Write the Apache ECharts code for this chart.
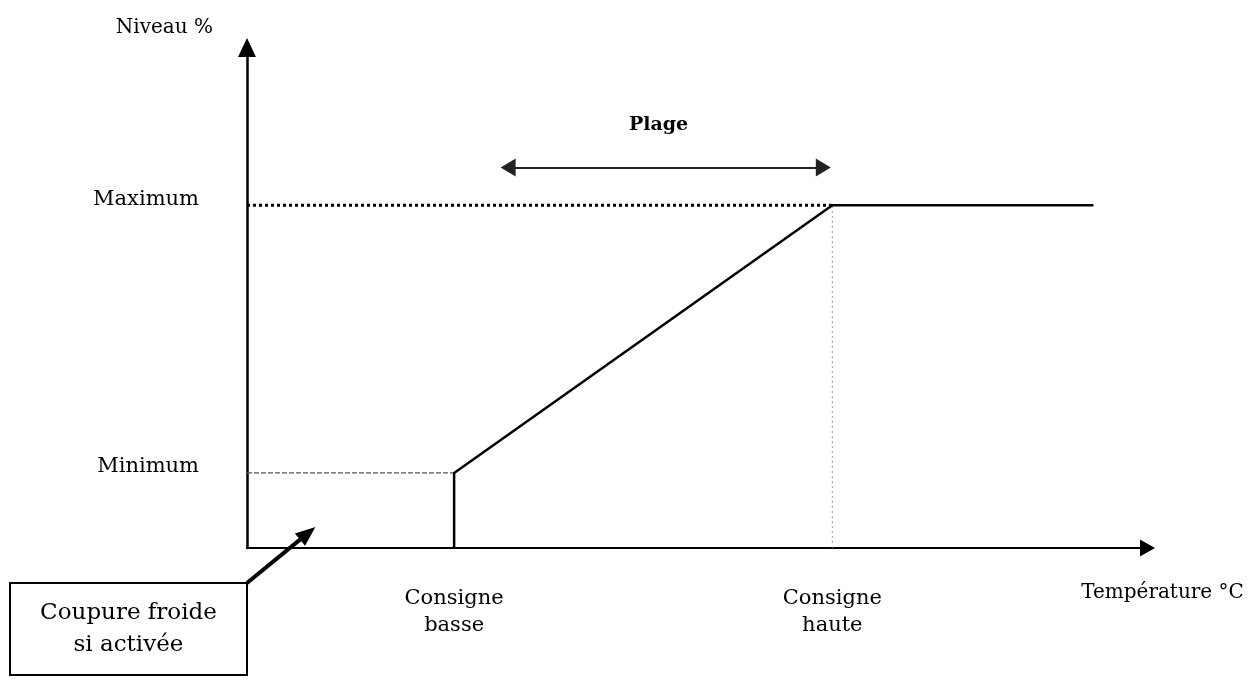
<!DOCTYPE html>
<html><head><meta charset="utf-8">
<script src="https://cdn.jsdelivr.net/npm/echarts@6/dist/echarts.min.js"></script>
<style>html,body{margin:0;padding:0;background:#fff}#c{width:1254px;height:684px}</style>
</head><body><div id="c"></div>
<script>
// ---- data (schematic values, axes 0..100) ----
const xLabels = ['Consigne\nbasse', 'Consigne\nhaute'];
const xPositions = [23, 65];
const yLabels = ['Minimum', 'Maximum'];
const yLevels = [15, 68.5];
const curve = [[23, 0], [23, 15], [65, 68.5], [94, 68.5]];
const minimumLine = [[0, 15], [23, 15]];
const maximumLine = [[0, 68.5], [65, 68.5]];
const hauteLine = [[65, 0], [65, 68.5]];
const plageArrow = [[29, 76], [64, 76]];
const plageLabelPos = [45.7, 84.6];
const plageText = 'Plage';
const calloutText = 'Coupure froide\nsi activée';
const calloutBoxCorner = [0, -7];
const calloutTip = [7.6, 4.2];
const xName = 'Température °C';
const yName = 'Niveau %';

const FONT = '"DejaVu Serif", "Liberation Serif", serif';
const INK = '#000';

const chart = echarts.init(document.getElementById('c'), null, {renderer: 'canvas'});
chart.setOption({
  animation: false,
  backgroundColor: '#fff',
  grid: {left: 247, right: 106.5, top: 47.5, bottom: 136},
  xAxis: {
    type: 'value', min: 0, max: 100,
    name: xName, nameLocation: 'end', nameGap: 15,
    nameTextStyle: {fontFamily: FONT, fontSize: 20, color: INK, align: 'center', verticalAlign: 'top', padding: [35, 0, 0, 0]},
    axisLine: {show: true, onZero: false, symbol: ['none', 'triangle'], symbolSize: [17, 15], lineStyle: {color: INK, width: 2}},
    axisTick: {show: false},
    splitLine: {show: false},
    axisLabel: {
      customValues: xPositions,
      formatter: function (v) { const i = xPositions.indexOf(v); return i >= 0 ? xLabels[i] : ''; },
      fontFamily: FONT, fontSize: 21, color: INK, lineHeight: 27, margin: 37, align: 'center'
    }
  },
  yAxis: {
    type: 'value', min: 0, max: 100,
    name: yName, nameLocation: 'end', nameGap: 20,
    nameTextStyle: {fontFamily: FONT, fontSize: 20, color: INK, align: 'right', verticalAlign: 'middle', padding: [0, 34, 0, 0]},
    axisLine: {show: true, onZero: false, symbol: ['none', 'triangle'], symbolSize: [18, 19], lineStyle: {color: INK, width: 2.5}},
    axisTick: {show: false},
    splitLine: {show: false},
    axisLabel: {
      customValues: yLevels,
      formatter: function (v) { const i = yLevels.indexOf(v); return i >= 0 ? yLabels[i] : ''; },
      fontFamily: FONT, fontSize: 21, color: INK, margin: 48, verticalAlign: 'bottom', lineHeight: 12
    }
  },
  series: [
    {
      name: 'Niveau', type: 'line', data: curve, showSymbol: false, symbol: 'none',
      lineStyle: {color: INK, width: 2.5}, z: 5
    },
    {
      name: 'Minimum', type: 'line', data: minimumLine, symbol: 'none',
      lineStyle: {color: '#555', width: 1.2, type: [5, 2]}
    },
    {
      name: 'Maximum', type: 'line', data: maximumLine, symbol: 'none',
      lineStyle: {color: INK, width: 3, type: [3, 3]}
    },
    {
      name: 'Haute', type: 'line', data: hauteLine, symbol: 'none',
      lineStyle: {color: '#999', width: 1, type: [2, 3]}
    },
    {
      name: 'Plage', type: 'line', data: [], symbol: 'none',
      markLine: {
        silent: true, symbol: ['triangle', 'triangle'], symbolSize: [18, 15],
        label: {show: false},
        lineStyle: {color: '#222', width: 2.2, type: 'solid', opacity: 1},
        emphasis: {disabled: true},
        data: [[{coord: plageArrow[0]}, {coord: plageArrow[1]}]]
      }
    },
    {
      name: 'PlageLabel', type: 'scatter', symbolSize: 0, z: 10,
      data: [{value: plageLabelPos, name: plageText}],
      itemStyle: {color: INK, opacity: 1},
      label: {show: true, position: 'inside', formatter: '{b}', fontFamily: FONT, fontSize: 19, fontWeight: 'bold', color: '#000', opacity: 1, textBorderWidth: 0},
      emphasis: {disabled: true},
      silent: true
    },
    {
      name: 'Callout', type: 'custom', clip: false, silent: true,
      data: [calloutTip],
      encode: {x: 0, y: 1},
      renderItem: function (params, api) {
        const corner = api.coord(calloutBoxCorner);
        const tip = api.coord(calloutTip);
        const bw = 237, bh = 92;
        const x0 = corner[0] - bw, y0 = corner[1];
        const dx = tip[0] - corner[0], dy = tip[1] - corner[1];
        const len = Math.hypot(dx, dy);
        const ux = dx / len, uy = dy / len;
        const headL = 20, headW = 8;
        const base = [tip[0] - ux * headL, tip[1] - uy * headL];
        const px = -uy, py = ux;
        return {
          type: 'group',
          children: [
            {type: 'rect', shape: {x: x0, y: y0, width: bw, height: bh}, style: {fill: '#fff', stroke: INK, lineWidth: 2}},
            {type: 'text', x: x0 + bw / 2, y: y0 + bh / 2,
              style: {text: calloutText, fontFamily: FONT, fontSize: 23, fill: INK, align: 'center', verticalAlign: 'middle', lineHeight: 32}},
            {type: 'line', shape: {x1: corner[0], y1: corner[1], x2: base[0] + ux * 2, y2: base[1] + uy * 2}, style: {stroke: INK, lineWidth: 4}},
            {type: 'polygon', shape: {points: [tip, [base[0] + px * headW, base[1] + py * headW], [base[0] - px * headW, base[1] - py * headW]]}, style: {fill: INK}}
          ]
        };
      }
    }
  ]
});
</script>
</body></html>
